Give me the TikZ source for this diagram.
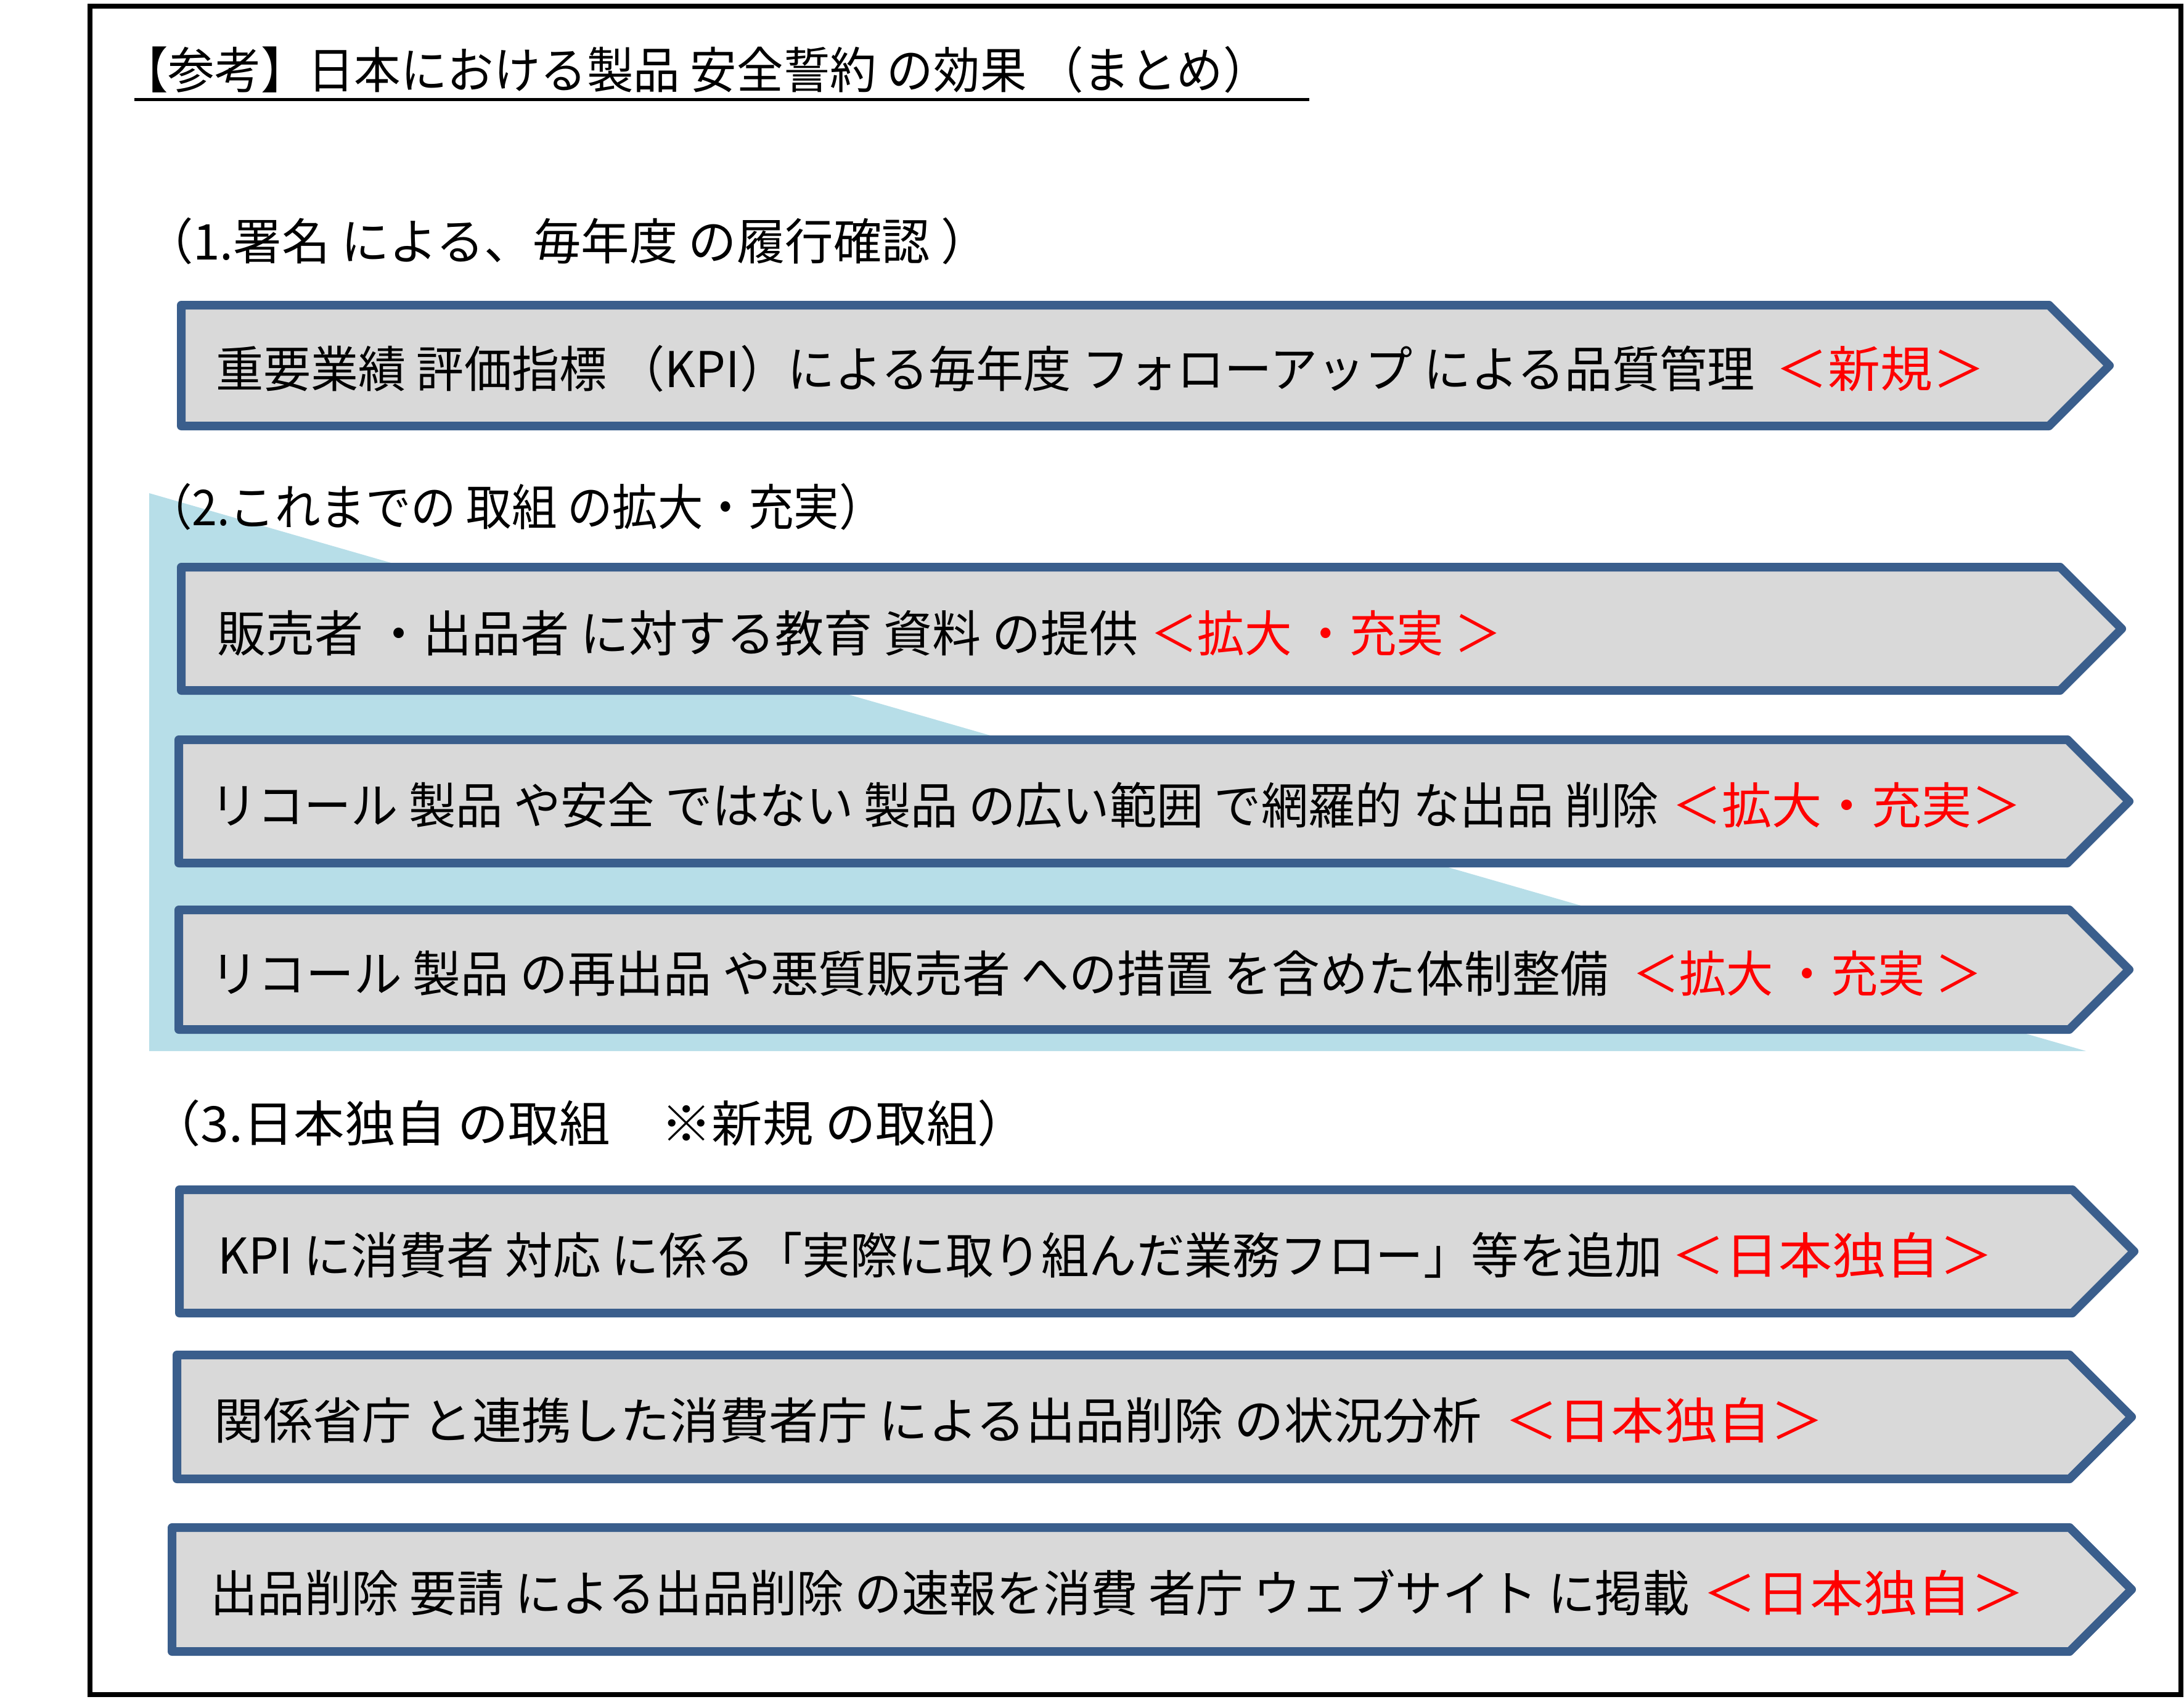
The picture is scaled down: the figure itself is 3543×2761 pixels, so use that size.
\documentclass[tikz,border=0pt]{standalone}
\usepackage{fontspec}
\usepackage{graphicx}
\setmainfont{Noto Sans CJK JP}
\definecolor{boxline}{HTML}{3A5E8C}
\definecolor{boxfill}{HTML}{D9D9D9}
\definecolor{tri}{HTML}{B7DEE8}
\newsavebox\fitbox
\newcommand\fitw[2]{\sbox\fitbox{#2}\pgfmathsetmacro\fitscale{#1/\the\wd\fitbox}\scalebox{\fitscale}[1]{\usebox\fitbox}}
\newcommand\chev[4]{\draw[chevbox] (#1,#2) -- ({#4-(#3-#2)/2},#2) -- (#4,{(#2+#3)/2}) -- ({#4-(#3-#2)/2},#3) -- (#1,#3) -- cycle;}
\begin{document}
\begin{tikzpicture}[x=1pt,y=-1pt,
  txt/.style={inner sep=0pt,outer sep=0pt,anchor=base west,font=\fontsize{80}{96}\selectfont},
  redtxt/.style={txt,text=red},
  chevbox/.style={draw=boxline,fill=boxfill,line width=14pt,line join=round}]
\useasboundingbox (0,0) rectangle (3543,2761);
% outer frame
\draw[line width=8pt] (146,10) rectangle (3538,2749);
% title
\node[txt] (title) at (197,144) {\fitw{1863}{【参考】日本における製品 安全誓約 の効果 （まとめ）}};
\draw[line width=5pt] (218,162) -- (2124,162);
% section 1
\node[txt] (s1) at (235,421) {\fitw{1370}{（1.署名 による、毎年度 の履行確認 ）}};
\chev{294}{495}{691}{3422}
\node[txt] (b1) at (350,628) {\fitw{2497}{重要業績 評価指標 （KPI）による毎年度 フォローアップ による品質管理}};
\node[redtxt] (b1r) at (2880,628) {\fitw{340}{＜新規＞}};
% section 2 background triangle
\fill[tri] (242,800) -- (3384,1705) -- (242,1705) -- cycle;
\node[txt] (s2) at (238,852) {\fitw{1197}{（2.これまでの 取組 の拡大・充実）}};
\chev{294}{920}{1120}{3442}
\node[txt] (b2) at (352,1057) {\fitw{1495}{販売者 ・出品者 に対する教育 資料 の提供}};
\node[redtxt] (b2r) at (1866,1057) {\fitw{570}{＜拡大 ・充実 ＞}};
\chev{290}{1200}{1400}{3454}
\node[txt] (b3) at (341,1336) {\fitw{2350}{リコール 製品 や安全 ではない 製品 の広い範囲 で網羅的 な出品 削除}};
\node[redtxt] (b3r) at (2712,1336) {\fitw{568}{＜拡大・充実＞}};
\chev{290}{1476}{1670}{3454}
\node[txt] (b4) at (341,1609) {\fitw{2268}{リコール 製品 の再出品 や悪質販売者 への措置 を含めた体制整備}};
\node[redtxt] (b4r) at (2648,1609) {\fitw{568}{＜拡大 ・充実 ＞}};
% section 3
\node[txt] (s3) at (243,1852) {\fitw{1425}{（3.日本独自 の取組　※新規 の取組）}};
\chev{291}{1930}{2130}{3462}
\node[txt] (b5) at (353,2066) {\fitw{2344}{KPI に消費者 対応 に係る「実際に取り組んだ業務フロー」等を追加}};
\node[redtxt] (b5r) at (2711,2066) {\fitw{523}{＜日本独自＞}};
\chev{287}{2198}{2399}{3458}
\node[txt] (b6) at (347,2334) {\fitw{2057}{関係省庁 と連携した消費者庁 による出品削除 の状況分析}};
\node[redtxt] (b6r) at (2441,2334) {\fitw{518}{＜日本独自＞}};
\chev{279}{2478}{2679}{3458}
\node[txt] (b7) at (341,2614) {\fitw{2400}{出品削除 要請 による出品削除 の速報を消費 者庁 ウェブサイト に掲載}};
\node[redtxt] (b7r) at (2762,2614) {\fitw{523}{＜日本独自＞}};
\end{tikzpicture}
\end{document}
